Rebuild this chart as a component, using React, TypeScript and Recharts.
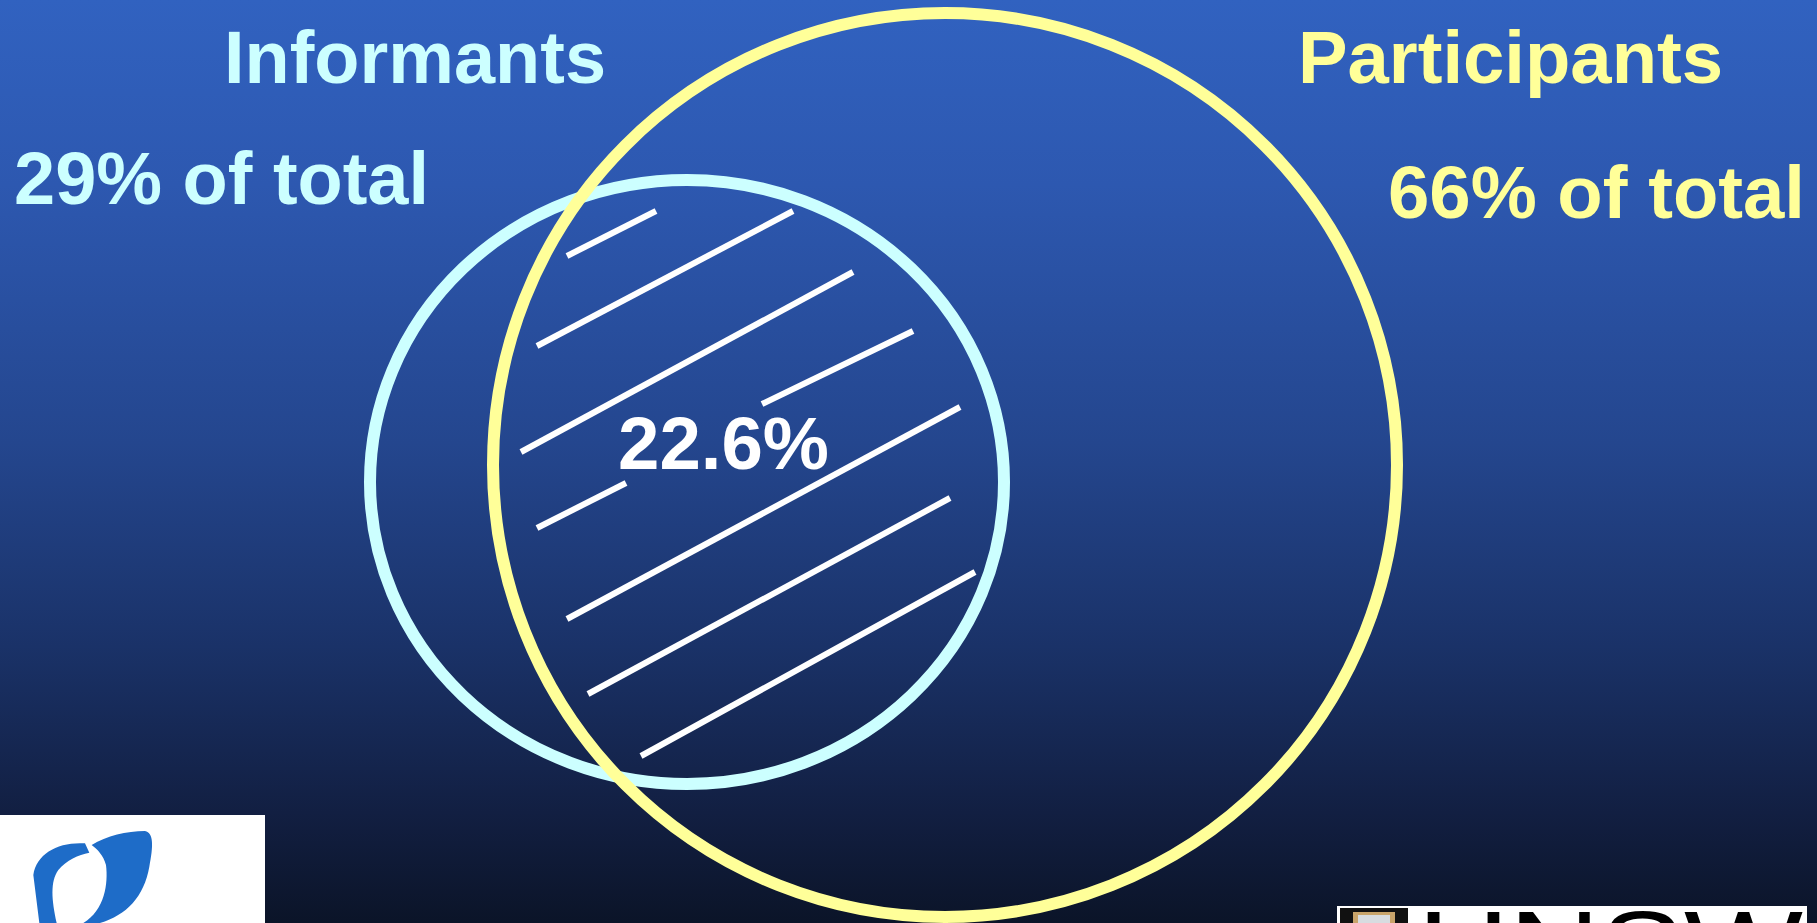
import { ScatterChart, Scatter, XAxis, YAxis, ReferenceLine, Customized } from "recharts";

const W = 1817;
const H = 923;

// sets of the Venn diagram
const setNames = ["Informants", "Participants"];
const setShares = ["29% of total", "66% of total"];
const overlapShare = "22.6%";
const setColors = ["#CCFFFF", "#FFFF99"];

// circle geometry in slide units
const circleX = [687, 945];
const circleY = [482, 465];
const circleRx = [317, 452];
const circleRy = [302, 452];

// hatch strokes inside the overlap
const hatchX1 = [567, 537, 521, 762, 537, 567, 588, 641];
const hatchY1 = [256, 346, 452, 404, 528, 619, 694, 756];
const hatchX2 = [656, 793, 853, 913, 626, 960, 950, 975];
const hatchY2 = [211, 211, 272, 331, 483, 407, 498, 572];

const FONT = '"Liberation Sans", Arial, sans-serif';

const kx = W / W;
const ky = H / H;

function Ring(color: string, i: number) {
  return (props: any) => (
    <ellipse
      cx={props.cx}
      cy={props.cy}
      rx={circleRx[i] * kx}
      ry={circleRy[i] * ky}
      fill="none"
      stroke={color}
      strokeWidth={12}
    />
  );
}

function Labels() {
  return (
    <g fontFamily={FONT} fontWeight="bold" fontSize={75}>
      <text x={224} y={83} fill={setColors[0]} textLength={382} lengthAdjust="spacingAndGlyphs">
        {setNames[0]}
      </text>
      <text x={14} y={204} fill={setColors[0]} textLength={415} lengthAdjust="spacingAndGlyphs">
        {setShares[0]}
      </text>
      <text x={1298} y={83} fill={setColors[1]} textLength={425} lengthAdjust="spacingAndGlyphs">
        {setNames[1]}
      </text>
      <text x={1388} y={218} fill={setColors[1]} textLength={417} lengthAdjust="spacingAndGlyphs">
        {setShares[1]}
      </text>
      <text x={618} y={469} fill="#FFFFFF" textLength={211} lengthAdjust="spacingAndGlyphs">
        {overlapShare}
      </text>
    </g>
  );
}

function Logos() {
  return (
    <g>
      {/* bottom-left logo */}
      <rect x={0} y={815} width={265} height={108} fill="#FFFFFF" />
      <g transform="translate(0,800) scale(0.3333)" fill="#1E6CC8">
        <path d="M 255 130 C 175 125, 110 160, 100 225 L 118 369 L 170 369 C 155 300, 150 245, 175 210 C 200 180, 235 165, 268 158 Z" />
        <path d="M 275 135 C 320 108, 380 93, 435 93 C 462 98, 460 140, 448 200 C 432 290, 380 345, 300 369 L 250 369 C 315 330, 325 250, 318 195 C 310 165, 292 148, 275 135 Z" />
      </g>
      {/* bottom-right logo */}
      <rect x={1337} y={906} width={470} height={17} fill="#FFFFFF" />
      <rect x={1340} y={908} width={68} height={15} fill="#111111" />
      <rect x={1353} y={912} width={42} height={11} fill="#C9A46A" />
      <rect x={1358} y={915} width={32} height={8} fill="#D8DCE0" />
      <text x={1418} y={985} fontFamily={FONT} fontSize={105} fill="#000000" textLength={385} lengthAdjust="spacingAndGlyphs">
        UNSW
      </text>
    </g>
  );
}

export default function App() {
  return (
    <div
      style={{
        width: W,
        height: H,
        background:
          "linear-gradient(to bottom, #3162C0 0%, #2D58B0 20%, #24468E 48%, #1A3268 70%, #121F42 88%, #0B1428 100%)",
        overflow: "hidden",
      }}
    >
      <style>{"body{margin:0}"}</style>
      <ScatterChart width={W} height={H} margin={{ top: 0, right: 0, bottom: 0, left: 0 }}>
        <XAxis type="number" dataKey="x" domain={[0, W]} hide />
        <YAxis type="number" dataKey="y" domain={[0, H]} reversed hide />
        <Scatter
          data={[{ x: circleX[0], y: circleY[0] }]}
          shape={Ring(setColors[0], 0)}
          isAnimationActive={false}
        />
        <Scatter
          data={[{ x: circleX[1], y: circleY[1] }]}
          shape={Ring(setColors[1], 1)}
          isAnimationActive={false}
        />
        {hatchX1.map((x, i) => (
          <ReferenceLine
            key={i}
            segment={[
              { x, y: hatchY1[i] },
              { x: hatchX2[i], y: hatchY2[i] },
            ]}
            stroke="#FFFFFF"
            strokeWidth={6}
          />
        ))}
        <Customized component={Labels} />
        <Customized component={Logos} />
      </ScatterChart>
    </div>
  );
}
